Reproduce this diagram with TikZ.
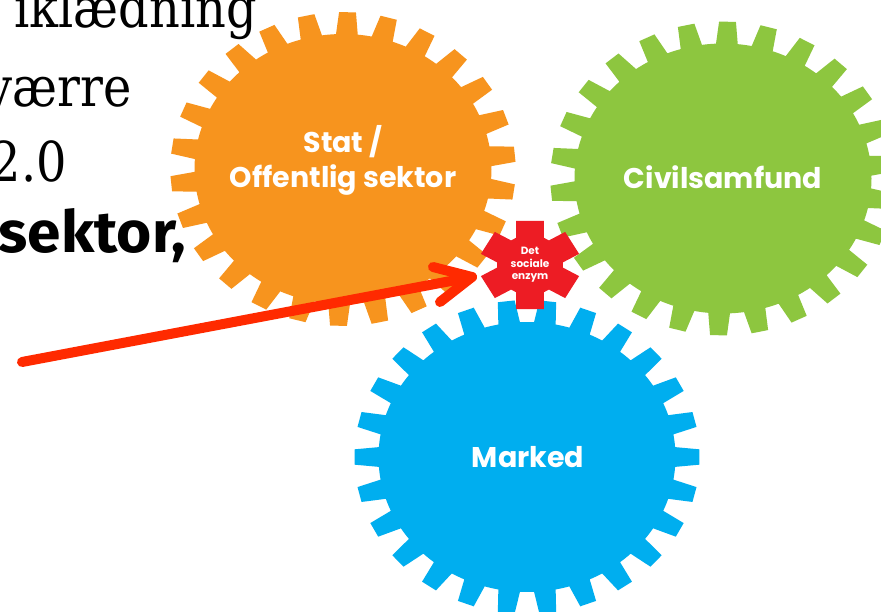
\documentclass[tikz,border=0pt]{standalone}
\usepackage{fontspec}
\setmainfont{DejaVu Serif}[FakeStretch=0.87]
\newfontfamily\gearfont{Poppins}
\newfontfamily\boldsans{Fira Sans}[FakeStretch=1.04]
\usetikzlibrary{calc}
\definecolor{gorange}{HTML}{F7941E}
\definecolor{ggreen}{HTML}{8DC63F}
\definecolor{gblue}{HTML}{00AEEF}
\definecolor{gred}{HTML}{ED1C24}
\definecolor{arrowred}{HTML}{FF2A00}
% #1 colour, #2 teeth, #3 phase, #4 body radius, #5 tip radius, #6 base half angle, #7 tip half angle
\newcommand\gearshape[7]{%
  \pgfmathtruncatemacro\gearlast{#2-1}%
  \fill[#1] ({#3-#6}:#4pt)
    \foreach \i [evaluate=\i as \a using {#3+\i*360/#2}] in {0,...,\gearlast} {
      -- ({\a-#6}:#4pt) -- ({\a-#7}:#5pt) -- ({\a+#7}:#5pt) -- ({\a+#6}:#4pt)
      arc[start angle={\a+#6}, end angle={\a+360/#2-#6}, radius=#4pt]
    } -- cycle;%
}
\tikzset{
  gearlabel/.style={text=white, align=center, inner sep=0pt,
    font=\gearfont\bfseries\fontsize{28.5}{35}\selectfont},
  smalllabel/.style={text=white, align=center, inner sep=0pt,
    font=\gearfont\bfseries\fontsize{10.5}{12.5}\selectfont},
  bigtext/.style={anchor=base east, inner sep=0pt, text=black,
    font=\fontsize{55}{66}\selectfont},
  bigbold/.style={anchor=base east, inner sep=0pt, text=black,
    font=\boldsans\bfseries\fontsize{58}{66}\selectfont},
  arrowline/.style={draw=arrowred, line width=10pt, line cap=round, line join=round}
}
\begin{document}
\begin{tikzpicture}[x=1pt,y=1pt]
\useasboundingbox (0,0) rectangle (881,611);
\fill[white] (0,0) rectangle (881,611);
% gears
\begin{scope}[shift={(343,442)}, xscale=1.1]
  \gearshape{gorange}{26}{88.5}{135}{157}{4.2}{2.8}
\end{scope}
\begin{scope}[shift={(723,432.5)}, xscale=1.1]
  \gearshape{ggreen}{26}{88.5}{135}{157}{4.2}{2.8}
\end{scope}
\begin{scope}[shift={(527,154)}, xscale=1.1]
  \gearshape{gblue}{26}{0}{135}{157}{4.2}{2.8}
\end{scope}
\begin{scope}[shift={(530,346)}, xscale=1.1]
  \gearshape{gred}{6}{90}{30}{46}{25}{16}
\end{scope}
% labels
\node[gearlabel] (stat) at (343,451) {Stat /\\Offentlig sektor};
\node[gearlabel] (civil) at (723,434) {Civilsamfund};
\node[gearlabel] (marked) at (528,154) {Marked};
\node[smalllabel] (enzym) at (530,346) {Det\\sociale\\enzym};
% text at top left
\node[bigtext] (t1) at (257,583) {iklædning};
\node[bigtext] (t2) at (132,504) {værre};
\node[bigtext] (t3) at (67,429) {2.0};
\node[bigbold] (t4) at (186,358) {sektor,};
% arrow
\coordinate (arrowtail) at (22,249);
\coordinate (arrowtip) at (472,334);
\draw[arrowline] (arrowtail) -- (arrowtip);
\draw[arrowline] ($(arrowtip)+(-39,10)$) -- (arrowtip) -- ($(arrowtip)+(-32,-25)$);
\end{tikzpicture}
\end{document}
